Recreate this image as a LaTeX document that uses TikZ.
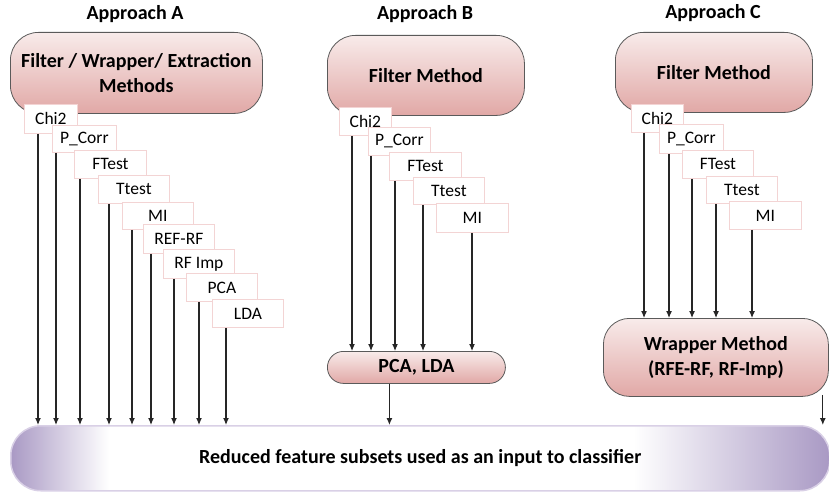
\documentclass[tikz,border=0pt]{standalone}
\usepackage{fontspec}
\setmainfont{Carlito}
\usetikzlibrary{arrows.meta}
\definecolor{pinkT}{HTML}{F8EBEA}
\definecolor{pinkB}{HTML}{E1A8A6}
\definecolor{lav}{HTML}{A999C4}
\definecolor{lavE}{HTML}{D9D0E6}
\definecolor{lblborder}{HTML}{F3D4D4}
\definecolor{edge}{HTML}{5A5A5A}
\pgfdeclarehorizontalshading{lavh}{100bp}{color(0bp)=(lav); color(25bp)=(lav); color(31bp)=(white); color(63bp)=(white); color(75bp)=(lav); color(100bp)=(lav)}
\tikzset{
  pinkbox/.style={draw=edge, line width=0.8pt, top color=pinkT, bottom color=pinkB, anchor=north west, inner sep=0, align=center, font=\fontsize{20}{25}\selectfont\bfseries},
  lbl/.style={draw=lblborder, fill=white, line width=0.8pt, anchor=north west, inner sep=0, font=\fontsize{17.5}{18}\selectfont},
  ttl/.style={font=\fontsize{20}{22}\selectfont\bfseries},
  arr/.style={-{Latex[length=7pt,width=6pt]}, line width=1.1pt, draw=black!85},
}
\begin{document}
\begin{tikzpicture}[x=1pt,y=-1pt]
\useasboundingbox (0,0) rectangle (829,495);
% titles
\node[ttl] (tA) at (135,14) {Approach A};
\node[ttl] (tB) at (425,14) {Approach B};
\node[ttl] (tC) at (713,13) {Approach C};
% top boxes
\node[pinkbox, rounded corners=28, minimum width=252, minimum height=81] (boxA) at (10,32) {Filter / Wrapper/ Extraction\\Methods};
\node[pinkbox, rounded corners=28, minimum width=197, minimum height=80] (boxB) at (327,35) {Filter Method};
\node[pinkbox, rounded corners=28, minimum width=197, minimum height=80] (boxC) at (615,32) {Filter Method};
% bottom box
\node[draw=lavE, line width=1.5pt, shading=lavh, rounded corners=30, minimum width=819, minimum height=65, anchor=north west, inner sep=0, font=\fontsize{20}{22}\selectfont\bfseries] (big) at (10,425) {Reduced feature subsets used as an input to classifier};
% middle boxes
\node[pinkbox, rounded corners=16, minimum width=178, minimum height=32] (pl) at (327,351) {PCA, LDA};
\node[pinkbox, rounded corners=26, minimum width=225, minimum height=78] (wr) at (603,318) {Wrapper Method\\(RFE-RF, RF-Imp)};
% Approach A labels
\node[lbl, minimum width=53, minimum height=29] (a1) at (24,104) {Chi2};
\node[lbl, minimum width=64, minimum height=27] (a2) at (52,125) {P\_Corr};
\node[lbl, minimum width=72, minimum height=28] (a3) at (74,150) {FTest};
\node[lbl, minimum width=71, minimum height=28] (a4) at (98,175) {Ttest};
\node[lbl, minimum width=71, minimum height=27] (a5) at (122,202) {MI};
\node[lbl, minimum width=71, minimum height=29] (a6) at (143,224) {REF-RF};
\node[lbl, minimum width=71, minimum height=29] (a7) at (163,249) {RF Imp};
\node[lbl, minimum width=71, minimum height=28] (a8) at (186,273) {PCA};
\node[lbl, minimum width=71, minimum height=28] (a9) at (212,299) {LDA};
% Approach B labels
\node[lbl, minimum width=52, minimum height=28] (b1) at (339,107) {Chi2};
\node[lbl, minimum width=62, minimum height=28] (b2) at (368,127) {P\_Corr};
\node[lbl, minimum width=72, minimum height=28] (b3) at (389,152) {FTest};
\node[lbl, minimum width=71, minimum height=27] (b4) at (413,177) {Ttest};
\node[lbl, minimum width=72, minimum height=29] (b5) at (436,203) {MI};
% Approach C labels
\node[lbl, minimum width=52, minimum height=28] (c1) at (631,104) {Chi2};
\node[lbl, minimum width=64, minimum height=29] (c2) at (659,124) {P\_Corr};
\node[lbl, minimum width=71, minimum height=28] (c3) at (682,150) {FTest};
\node[lbl, minimum width=71, minimum height=27] (c4) at (706,176) {Ttest};
\node[lbl, minimum width=72, minimum height=28] (c5) at (729,201) {MI};
% Approach A arrows
\foreach \n/\d in {a1/14,a2/4,a3/6,a4/11,a5/10,a6/8,a7/11,a8/13,a9/14}
  \draw[arr] ([xshift=\d]\n.south west) -- ([xshift=\d]\n.south west |- big.north);
% Approach B arrows
\foreach \n/\d in {b1/13,b2/3,b3/6,b4/10,b5/36}
  \draw[arr] ([xshift=\d]\n.south west) -- ([xshift=\d]\n.south west |- pl.north);
\draw[arr] ([xshift=-27]pl.south) -- ([xshift=-27]pl.south |- big.north);
% Approach C arrows
\foreach \n/\d in {c1/13,c2/10,c3/10,c4/10,c5/23}
  \draw[arr] ([xshift=\d]\n.south west) -- ([xshift=\d]\n.south west |- wr.north);
\draw[arr] ([xshift=-6,yshift=2]wr.south east) -- ([xshift=-6]wr.south east |- big.north);
\end{tikzpicture}
\end{document}
